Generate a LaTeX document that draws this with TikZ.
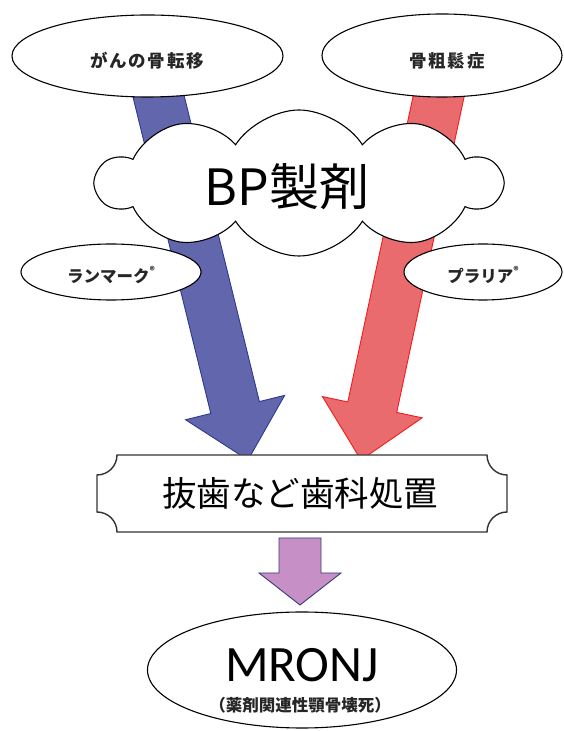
\documentclass[tikz,border=0pt]{standalone}
\usepackage{fontspec}
\setmainfont{Noto Sans CJK JP}
\newfontfamily\jp{Noto Sans CJK JP}
\newfontfamily\jpsp[LetterSpace=10]{Noto Sans CJK JP}
\newfontfamily\calib{Carlito}
\usetikzlibrary{shapes.geometric,shapes.symbols,calc}
\definecolor{bluefill}{HTML}{6266AC}
\definecolor{blueedge}{HTML}{2B3990}
\definecolor{redfill}{HTML}{E96B6E}
\definecolor{rededge}{HTML}{F21C1C}
\definecolor{pinkfill}{HTML}{C68FC6}
\definecolor{pinkedge}{HTML}{3A3A7A}
\tikzset{
  oval/.style={ellipse, draw=black, line width=1.1pt, fill=white, inner sep=0pt},
  lbl/.style={inner sep=0pt, text=black!85},
}
\newcommand\regmark{\raisebox{0.5em}{\fontsize{10}{10}\selectfont\bfseries ®}}
\begin{document}
\begin{tikzpicture}[x=1pt,y=1pt]
\useasboundingbox (0,0) rectangle (563,731);
% big arrows
\coordinate (bs) at (157,641);
\coordinate (bt) at (248,271);
\coordinate (bb) at ($(bt)!54pt!(bs)$);
\fill[bluefill] ($(bs)!25pt!90:(bt)$) -- ($(bb)!25pt!-90:(bs)$) -- ($(bb)!51pt!-90:(bs)$) -- (bt)
  -- ($(bb)!51pt!90:(bs)$) -- ($(bb)!25pt!90:(bs)$) -- ($(bs)!25pt!-90:(bt)$) -- cycle;
\draw[blueedge, line width=0.9pt, line join=miter] ($(bs)!25pt!90:(bt)$) -- ($(bb)!25pt!-90:(bs)$) -- ($(bb)!51pt!-90:(bs)$) -- (bt)
  -- ($(bb)!51pt!90:(bs)$) -- ($(bb)!25pt!90:(bs)$) -- ($(bs)!25pt!-90:(bt)$);
\coordinate (rs) at (440,641);
\coordinate (rt) at (361,271);
\coordinate (rb) at ($(rt)!54pt!(rs)$);
\fill[redfill] ($(rs)!25pt!90:(rt)$) -- ($(rb)!25pt!-90:(rs)$) -- ($(rb)!51pt!-90:(rs)$) -- (rt)
  -- ($(rb)!51pt!90:(rs)$) -- ($(rb)!25pt!90:(rs)$) -- ($(rs)!25pt!-90:(rt)$) -- cycle;
\draw[rededge, line width=0.9pt, line join=miter] ($(rs)!25pt!90:(rt)$) -- ($(rb)!25pt!-90:(rs)$) -- ($(rb)!51pt!-90:(rs)$) -- (rt)
  -- ($(rb)!51pt!90:(rs)$) -- ($(rb)!25pt!90:(rs)$) -- ($(rs)!25pt!-90:(rt)$);
% cloud
\node[cloud, cloud puffs=10, cloud puff arc=115, aspect=2.9, draw=black, line width=1.1pt, fill=white,
  minimum width=404pt, minimum height=146pt, inner sep=0pt] (bp) at (299,548) {};
\node[lbl, font=\jp\fontsize{50}{50}\selectfont, text=black] at (287,544) {BP製剤};
% top ovals
\node[oval, minimum width=271pt, minimum height=82pt] (cancer) at (147.5,675) {};
\node[lbl, font=\jpsp\bfseries\fontsize{17.5}{17.5}\selectfont] at (147,670) {がんの骨転移};
\node[oval, minimum width=240pt, minimum height=83pt] (osteo) at (442,675.5) {};
\node[lbl, font=\jpsp\bfseries\fontsize{17.5}{17.5}\selectfont] at (447,670) {骨粗鬆症};
% drug ovals
\node[oval, minimum width=180pt, minimum height=56pt] (ranmark) at (111,459) {};
\node[lbl, font=\jp\bfseries\fontsize{16.5}{16.5}\selectfont] at (111,456) {ランマーク\regmark};
\node[oval, minimum width=158pt, minimum height=56pt] (pralia) at (483,459) {};
\node[lbl, font=\jp\bfseries\fontsize{16.5}{16.5}\selectfont] at (483,456) {プラリア\regmark};
% plaque
\draw[line width=1.4pt, draw=black!80, fill=white] (117,276) -- (487,276)
  arc[start angle=180, end angle=270, radius=20pt] -- (507,219)
  arc[start angle=90, end angle=180, radius=20pt] -- (117,199)
  arc[start angle=0, end angle=90, radius=20pt] -- (97,256)
  arc[start angle=270, end angle=360, radius=20pt] -- cycle;
\node[lbl, font=\jp\fontsize{34.5}{34.5}\selectfont, text=black] (dental) at (300,238) {抜歯など歯科処置};
% pink arrow
\fill[pinkfill, draw=pinkedge, line width=0.9pt, line join=miter]
  (279,193) -- (321,193) -- (321,158) -- (341,158) -- (300,126) -- (259,158) -- (279,158) -- cycle;
% MRONJ
\node[oval, minimum width=309pt, minimum height=116pt] (mronj) at (302,61) {};
\node[lbl, font=\calib\fontsize{51}{51}\selectfont, text=black, anchor=base] at (302,49) {MRONJ};
\node[lbl, font=\jp\bfseries\fontsize{16.5}{16.5}\selectfont] at (300,26) {（薬剤関連性顎骨壊死）};
\end{tikzpicture}
\end{document}
